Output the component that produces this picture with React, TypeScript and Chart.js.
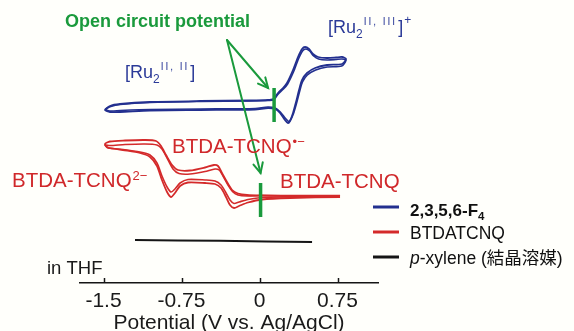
import React, { useEffect, useRef } from "react";
import { Chart, registerables } from "chart.js";
Chart.register(...registerables);

// ---------------- data (potential in V vs Ag/AgCl, current in a.u., curves stacked) ----------------
const potentialTicks = [-1.5, -0.75, 0, 0.75];
const potentialTickLabels = ["-1.5", "-0.75", "0", "0.75"];
const potentialMin = -1.726;
const potentialMax = 1.139;
const currentMin = 0;
const currentMax = 28.3;

const seriesNames = ["2,3,5,6-F4", "BTDATCNQ", "p-xylene (結晶溶媒)"];
const seriesColors = ["#23308f", "#d42a2a", "#151515"];
const ocpColor = "#1a9a3c";

// 2,3,5,6-F4 : [Ru2] CV, cycle 1
const f4Cycle1Potential = [0.139, 0.178, 0.226, 0.264, 0.322, 0.37, 0.409, 0.438, 0.476, 0.514, 0.563, 0.649, 0.736, 0.793, 0.832, 0.793, 0.649, 0.534, 0.457, 0.409, 0.38, 0.351, 0.322, 0.293, 0.274, 0.245, 0.197, 0.149, 0.082, -0.043, -0.572, -1.053, -1.341, -1.438, -1.486, -1.438, -1.341, -1.053, -0.572, -0.091, 0.082, 0.139];
const f4Cycle1Current = [18.4, 19.0, 19.5, 20.0, 21.3, 22.6, 23.4, 23.6, 23.4, 22.9, 22.6, 22.5, 22.55, 22.6, 22.4, 21.9, 21.8, 21.5, 21.0, 20.3, 19.3, 18.1, 17.0, 16.2, 16.0, 16.3, 17.0, 17.4, 17.5, 17.35, 17.3, 17.25, 17.1, 17.1, 17.3, 17.7, 17.9, 18.1, 18.2, 18.25, 18.3, 18.4];
// cycle 2
const f4Cycle2Potential = [0.139, 0.18, 0.23, 0.27, 0.326, 0.374, 0.413, 0.445, 0.482, 0.52, 0.568, 0.65, 0.735, 0.79, 0.83, 0.79, 0.65, 0.54, 0.46, 0.413, 0.384, 0.354, 0.325, 0.298, 0.28, 0.25, 0.2, 0.15, 0.08, -0.04, -0.57, -1.05, -1.34, -1.43, -1.48, -1.43, -1.34, -1.05, -0.57, -0.09, 0.08, 0.139];
const f4Cycle2Current = [18.3, 18.9, 19.4, 19.9, 21.1, 22.4, 23.2, 23.4, 23.2, 22.7, 22.4, 22.3, 22.35, 22.4, 22.25, 21.7, 21.6, 21.3, 20.8, 20.1, 19.1, 17.9, 16.9, 16.3, 16.15, 16.45, 17.1, 17.5, 17.6, 17.45, 17.4, 17.35, 17.25, 17.2, 17.35, 17.65, 17.85, 18.05, 18.15, 18.2, 18.25, 18.3];

// BTDATCNQ CV, cycle 1 (outer)
const btdaCycle1Potential = [0.774, 0.389, 0.024, -0.12, -0.207, -0.264, -0.313, -0.361, -0.399, -0.438, -0.524, -0.668, -0.784, -0.841, -0.899, -0.947, -0.995, -1.101, -1.293, -1.438, -1.486, -1.457, -1.313, -1.149, -1.053, -0.986, -0.938, -0.889, -0.851, -0.813, -0.764, -0.688, -0.524, -0.428, -0.37, -0.322, -0.284, -0.245, -0.197, -0.111, 0.024, 0.293, 0.774];
const btdaCycle1Current = [8.7, 8.7, 8.75, 8.8, 8.95, 9.3, 10.1, 11.0, 11.7, 11.8, 11.55, 11.25, 11.3, 11.8, 12.8, 13.7, 14.2, 14.3, 14.25, 14.15, 13.9, 13.55, 13.3, 13.0, 12.6, 11.7, 10.3, 9.1, 8.6, 9.0, 9.7, 10.05, 10.0, 9.9, 9.5, 8.6, 7.8, 7.5, 7.7, 8.05, 8.35, 8.5, 8.6];
// cycle 2 (inner)
const btdaCycle2Potential = [0.774, 0.389, 0.024, -0.12, -0.207, -0.255, -0.303, -0.351, -0.389, -0.428, -0.524, -0.668, -0.774, -0.832, -0.889, -0.938, -0.986, -1.101, -1.293, -1.438, -1.486, -1.457, -1.313, -1.149, -1.053, -0.986, -0.938, -0.889, -0.851, -0.813, -0.764, -0.688, -0.524, -0.428, -0.37, -0.322, -0.284, -0.245, -0.197, -0.111, 0.024, 0.293, 0.774];
const btdaCycle2Current = [8.75, 8.75, 8.75, 8.7, 8.8, 9.1, 9.8, 10.7, 11.3, 11.4, 11.15, 10.9, 10.95, 11.4, 12.5, 13.4, 13.8, 13.9, 13.85, 13.75, 13.8, 13.5, 13.35, 13.1, 12.8, 12.0, 10.7, 9.6, 9.1, 9.4, 10.0, 10.35, 10.3, 10.2, 9.8, 9.0, 8.3, 7.95, 8.1, 8.35, 8.55, 8.6, 8.65];

// p-xylene blank
const xylenePotential = [-1.197, -0.38, 0.505];
const xyleneCurrent = [4.3, 4.22, 4.1];

// open circuit potentials (marker spans)
const ocpF4Potential = [0.14, 0.14];
const ocpF4Current = [16.1, 19.5];
const ocpBtdaPotential = [0.01, 0.01];
const ocpBtdaCurrent = [6.6, 10.0];

// ---------------- helpers ----------------
const FONT = '"Liberation Sans", Arial, "Noto Sans CJK JP", sans-serif';
const pts = (xs: number[], ys: number[]) => xs.map((x, i) => ({ x, y: ys[i] }));

type Seg = { t: string; size: number; dy?: number; weight?: string; style?: string; spacing?: number };
function drawRich(ctx: CanvasRenderingContext2D, segs: Seg[], x: number, y: number, color: string) {
  let cx = x;
  ctx.save();
  ctx.fillStyle = color;
  ctx.textBaseline = "alphabetic";
  ctx.textAlign = "left";
  for (const s of segs) {
    ctx.font = `${s.style || "normal"} ${s.weight || "normal"} ${s.size}px ${FONT}`;
    (ctx as any).letterSpacing = `${s.spacing || 0}px`;
    ctx.fillText(s.t, cx, y + (s.dy || 0));
    cx += ctx.measureText(s.t).width;
  }
  (ctx as any).letterSpacing = "0px";
  ctx.restore();
  return cx;
}

function arrow(ctx: CanvasRenderingContext2D, x0: number, y0: number, x1: number, y1: number, color: string) {
  ctx.save();
  ctx.strokeStyle = color;
  ctx.lineWidth = 2;
  ctx.lineCap = "round";
  ctx.beginPath();
  ctx.moveTo(x0, y0);
  ctx.lineTo(x1, y1);
  ctx.stroke();
  const a = Math.atan2(y1 - y0, x1 - x0);
  const L = 11;
  const w = 0.45;
  ctx.beginPath();
  ctx.moveTo(x1 - L * Math.cos(a - w), y1 - L * Math.sin(a - w));
  ctx.lineTo(x1, y1);
  ctx.lineTo(x1 - L * Math.cos(a + w), y1 - L * Math.sin(a + w));
  ctx.stroke();
  ctx.restore();
}

const decorPlugin = {
  id: "decor",
  beforeDraw(chart: any) {
    const ctx = chart.ctx as CanvasRenderingContext2D;
    ctx.save();
    ctx.fillStyle = "#fffffb";
    ctx.fillRect(0, 0, chart.width, chart.height);
    ctx.restore();
  },
  afterDraw(chart: any) {
    const ctx = chart.ctx as CanvasRenderingContext2D;
    const xs = chart.scales.x;
    const ys = chart.scales.y;
    const bottom = chart.chartArea.bottom;

    // inward tick marks
    ctx.save();
    ctx.strokeStyle = "#151515";
    ctx.lineWidth = 1.5;
    for (const v of potentialTicks) {
      const px = Math.round(xs.getPixelForValue(v)) + 0.5;
      ctx.beginPath();
      ctx.moveTo(px, bottom);
      ctx.lineTo(px, bottom - 5);
      ctx.stroke();
    }
    ctx.restore();

    // Open circuit potential label + arrows
    drawRich(ctx, [{ t: "Open circuit potential", size: 18, weight: "bold" }], 65, 27, ocpColor);
    const sx = 227, sy = 40;
    const bx = xs.getPixelForValue(ocpF4Potential[0]);
    const bTop = ys.getPixelForValue(ocpF4Current[1]);
    const rx = xs.getPixelForValue(ocpBtdaPotential[0]);
    const rTop = ys.getPixelForValue(ocpBtdaCurrent[1]);
    arrow(ctx, sx, sy, bx - 6, bTop, ocpColor);
    arrow(ctx, sx, sy, rx, rTop - 10, ocpColor);

    // Ru labels
    const blueText = "#2b3a98";
    let cx = drawRich(ctx, [{ t: "[Ru", size: 18 }, { t: "2", size: 12, dy: 5 }], 125, 78, blueText);
    cx = drawRich(ctx, [{ t: "II, II", size: 10, dy: -8, spacing: 2 }], cx + 1, 78, blueText);
    drawRich(ctx, [{ t: "]", size: 18 }], cx + 1, 78, blueText);

    cx = drawRich(ctx, [{ t: "[Ru", size: 18 }, { t: "2", size: 12, dy: 5 }], 328, 33, blueText);
    cx = drawRich(ctx, [{ t: "II, III", size: 10, dy: -8, spacing: 2 }], cx + 1, 33, blueText);
    cx = drawRich(ctx, [{ t: "]", size: 18 }], cx + 1, 33, blueText);
    drawRich(ctx, [{ t: "+", size: 12, dy: -9 }], cx + 1, 33, blueText);

    // BTDA-TCNQ labels
    const redText = "#d0282a";
    cx = drawRich(ctx, [{ t: "BTDA-TCNQ", size: 20.5 }], 12, 187, redText);
    drawRich(ctx, [{ t: "2\u2212", size: 13, dy: -7 }], cx + 1, 187, redText);
    cx = drawRich(ctx, [{ t: "BTDA-TCNQ", size: 20.5 }], 172, 153, redText);
    drawRich(ctx, [{ t: "\u2022\u2212", size: 13, dy: -7 }], cx + 1, 153, redText);
    drawRich(ctx, [{ t: "BTDA-TCNQ", size: 20.5 }], 280, 188, redText);

    // in THF
    drawRich(ctx, [{ t: "in THF", size: 18.5 }], 47, 274, "#1a1a1a");

    // legend
    const legY = [207, 232, 257];
    ctx.save();
    ctx.lineWidth = 3;
    legY.forEach((y, i) => {
      ctx.strokeStyle = seriesColors[i];
      ctx.beginPath();
      ctx.moveTo(373, y);
      ctx.lineTo(399, y);
      ctx.stroke();
    });
    ctx.restore();
    const lx = 410;
    cx = drawRich(ctx, [{ t: "2,3,5,6-F", size: 17, weight: "bold" }], lx, 216, "#111");
    drawRich(ctx, [{ t: "4", size: 11.5, weight: "bold", dy: 4 }], cx, 216, "#111");
    drawRich(ctx, [{ t: seriesNames[1], size: 17.5 }], lx, 239, "#111");
    const rest = seriesNames[2].slice(1);
    cx = drawRich(ctx, [{ t: "p", size: 17.5, style: "italic" }], lx, 264, "#111");
    drawRich(ctx, [{ t: rest, size: 17.5 }], cx, 264, "#111");
  },
};

export default function App() {
  const ref = useRef<HTMLCanvasElement>(null);
  useEffect(() => {
    const line = (label: string, data: any[], color: string, width: number, order = 2) => ({
      label,
      data,
      borderColor: color,
      backgroundColor: color,
      borderWidth: width,
      showLine: true,
      pointRadius: 0,
      tension: 0.25,
      fill: false,
      clip: false as any,
      order,
    });
    const chart = new Chart(ref.current!, {
      type: "scatter",
      data: {
        datasets: [
          line(seriesNames[0], pts(f4Cycle1Potential, f4Cycle1Current), seriesColors[0], 1.8),
          line(seriesNames[0] + " (2)", pts(f4Cycle2Potential, f4Cycle2Current), seriesColors[0], 1.6),
          line(seriesNames[1], pts(btdaCycle1Potential, btdaCycle1Current), seriesColors[1], 1.8),
          line(seriesNames[1] + " (2)", pts(btdaCycle2Potential, btdaCycle2Current), seriesColors[1], 1.6),
          line(seriesNames[2], pts(xylenePotential, xyleneCurrent), seriesColors[2], 2),
          { ...line("OCP F4", pts(ocpF4Potential, ocpF4Current), ocpColor, 3.5, 0), tension: 0 },
          { ...line("OCP BTDA", pts(ocpBtdaPotential, ocpBtdaCurrent), ocpColor, 3.5, 0), tension: 0 },
        ],
      },
      options: {
        animation: false,
        responsive: false,
        devicePixelRatio: 1,
        layout: { padding: { left: 80, right: 196, top: 0, bottom: 0 } },
        plugins: { legend: { display: false }, tooltip: { enabled: false }, title: { display: false } },
        scales: {
          x: {
            type: "linear",
            min: potentialMin,
            max: potentialMax,
            afterBuildTicks: (scale: any) => {
              scale.ticks = potentialTicks.map((v) => ({ value: v }));
            },
            grid: { display: false, drawTicks: false },
            border: { display: true, color: "#151515", width: 1.5 },
            ticks: {
              padding: 6,
              color: "#1a1a1a",
              font: { family: FONT, size: 21, lineHeight: 1.2 },
              maxRotation: 0,
              autoSkip: false,
              callback: (v: any) => {
                const i = potentialTicks.indexOf(Number(v));
                return i >= 0 ? potentialTickLabels[i] : "";
              },
            },
            title: {
              display: true,
              text: "Potential (V vs. Ag/AgCl)",
              color: "#1a1a1a",
              font: { family: FONT, size: 21, lineHeight: 0.7 },
              padding: { top: -3.9, bottom: 0 },
            },
          },
          y: { type: "linear", display: false, min: currentMin, max: currentMax },
        },
      },
      plugins: [decorPlugin],
    } as any);
    return () => chart.destroy();
  }, []);
  return (
    <div style={{ position: "fixed", left: 0, top: 0, width: 574, height: 331, background: "#fffffb" }}>
      <canvas ref={ref} width={574} height={331} style={{ display: "block", width: 574, height: 331 }} />
    </div>
  );
}
